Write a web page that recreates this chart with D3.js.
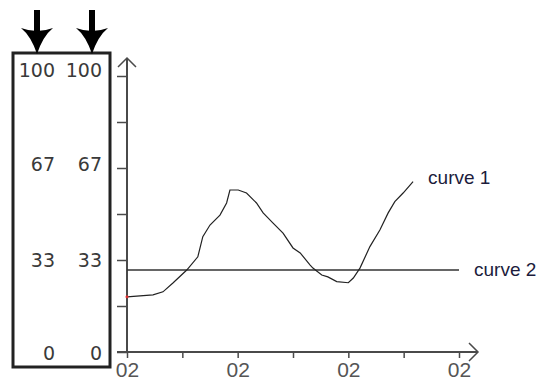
<!DOCTYPE html>
<html>
<head>
<meta charset="utf-8">
<script src="https://cdn.jsdelivr.net/npm/d3@7"></script>
<style>
  body { margin: 0; background: #fff; }
  svg { display: block; }
</style>
</head>
<body>
<script>
// data
let boxLabels = [100, 67, 33, 0];
let xTicks = [0, 1, 2, 3, 4, 5, 6];
let xTickLabels = ["02", "", "02", "", "02", "", "02"];
let yTicks = [0, 100/6, 200/6, 50, 400/6, 500/6, 100];
let curve1X = [0, 0.47, 0.65, 0.83, 1.08, 1.28, 1.37, 1.5, 1.68, 1.8, 1.86, 2.01, 2.16, 2.34, 2.46, 2.64, 2.82, 3.0, 3.13, 3.31, 3.36, 3.52, 3.63, 3.79, 4.0, 4.09, 4.21, 4.39, 4.57, 4.72, 4.84, 4.99, 5.17];
let curve1Y = [20, 20.7, 21.8, 25, 29.7, 34.5, 41.8, 46, 49.6, 54, 58.7, 58.7, 57.6, 54, 50.4, 46.7, 43.1, 37.7, 35.9, 31.5, 30.4, 27.9, 27.2, 25.5, 25.1, 26.8, 30.4, 38.2, 44.2, 50.4, 54.5, 57.6, 61.7];
let curve2X = [0, 6];
let curve2Y = [29.7, 29.7];
let seriesNames = ["curve 1", "curve 2"];

let width = 548, height = 381;
let svg = d3.select("body").append("svg")
    .attr("width", width)
    .attr("height", height);

let x = d3.scaleLinear().domain([0, 6]).range([127, 459]);
let y = d3.scaleLinear().domain([0, 100]).range([352, 76]);
let boxY = d3.scaleLinear().domain([0, 100]).range([353, 70.5]);

let axisColor = "#4a4a4a";

// left box with the two columns of labels
svg.append("rect")
    .attr("x", 13).attr("y", 53)
    .attr("width", 97).attr("height", 314)
    .attr("fill", "none")
    .attr("stroke", "#222")
    .attr("stroke-width", 3);

[55, 102].forEach(function (cx) {
    svg.append("g").selectAll("text")
        .data(boxLabels)
        .enter()
        .append("text")
        .attr("x", cx)
        .attr("y", function (d) { return boxY(d); })
        .attr("dy", "0.36em")
        .attr("text-anchor", "end")
        .attr("font-family", "DejaVu Sans")
        .attr("font-size", 19)
        .attr("fill", "#3a3a3a")
        .text(function (d) { return d; });
});

// arrows above the box
[37, 92].forEach(function (cx) {
    svg.append("rect")
        .attr("x", cx - 3).attr("y", 10)
        .attr("width", 6).attr("height", 22)
        .attr("fill", "#000");
    svg.append("path")
        .attr("d", "M" + (cx - 16) + ",28 Q" + (cx - 6) + ",36 " + cx + ",54 Q" + (cx + 6) + ",36 " + (cx + 16) + ",28 Q" + cx + ",34 " + (cx - 16) + ",28Z")
        .attr("fill", "#000");
});

// y axis
let yAxis = d3.axisLeft(y)
    .tickValues(yTicks)
    .tickSize(10)
    .tickFormat("");
let gy = svg.append("g")
    .attr("transform", "translate(127,0)")
    .call(yAxis);
gy.select(".domain").remove();
gy.selectAll(".tick line").attr("stroke", axisColor).attr("stroke-width", 1.5);
svg.append("line")
    .attr("x1", 127).attr("x2", 127)
    .attr("y1", 352).attr("y2", 58)
    .attr("stroke", axisColor).attr("stroke-width", 2);
svg.append("path")
    .attr("d", "M118,67 L127,58 L136,67")
    .attr("fill", "none").attr("stroke", axisColor).attr("stroke-width", 1.5);

// x axis
let xAxis = d3.axisBottom(x)
    .tickValues(xTicks)
    .tickSize(6)
    .tickPadding(4)
    .tickFormat(function (d, i) { return xTickLabels[i]; });
let gx = svg.append("g")
    .attr("transform", "translate(0,352)")
    .call(xAxis);
gx.select(".domain").remove();
gx.selectAll(".tick line").attr("stroke", axisColor).attr("stroke-width", 1.5);
gx.selectAll(".tick text")
    .attr("font-family", "Liberation Sans")
    .attr("font-size", 21)
    .attr("fill", "#555");
svg.append("line")
    .attr("x1", 117).attr("x2", 478)
    .attr("y1", 352).attr("y2", 352)
    .attr("stroke", axisColor).attr("stroke-width", 2);
svg.append("path")
    .attr("d", "M469,343 L478,352 L469,361")
    .attr("fill", "none").attr("stroke", axisColor).attr("stroke-width", 1.5);

// curves
let line = d3.line()
    .x(function (d) { return x(d[0]); })
    .y(function (d) { return y(d[1]); });

let c1 = d3.zip(curve1X, curve1Y);
let c2 = d3.zip(curve2X, curve2Y);

svg.append("path")
    .attr("d", line(c2))
    .attr("fill", "none")
    .attr("stroke", "#333")
    .attr("stroke-width", 1.6);

svg.append("path")
    .attr("d", line(c1))
    .attr("fill", "none")
    .attr("stroke", "#222")
    .attr("stroke-width", 1.2);

svg.append("circle")
    .attr("cx", x(c1[0][0])).attr("cy", y(c1[0][1]))
    .attr("r", 1.5)
    .attr("fill", "#e03030");

// curve labels
let last1 = c1[c1.length - 1];
let last2 = c2[c2.length - 1];
svg.append("text")
    .attr("x", x(last1[0]) + 15).attr("y", y(last1[1]) + 2)
    .attr("font-family", "Liberation Sans")
    .attr("font-size", 19)
    .attr("fill", "#1c1c3c")
    .text(seriesNames[0]);
svg.append("text")
    .attr("x", x(last2[0]) + 15).attr("y", y(last2[1]) + 6)
    .attr("font-family", "Liberation Sans")
    .attr("font-size", 19)
    .attr("fill", "#1c1c3c")
    .text(seriesNames[1]);
</script>
</body>
</html>
